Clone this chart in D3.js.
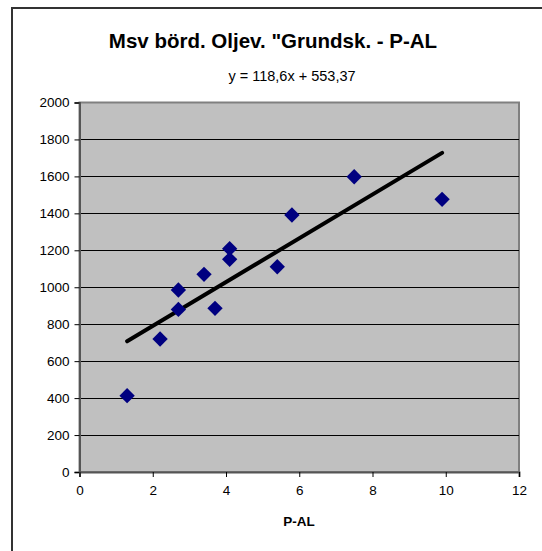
<!DOCTYPE html>
<html>
<head>
<meta charset="utf-8">
<script src="https://cdn.jsdelivr.net/npm/d3@7"></script>
<style>
  body { margin: 0; background: #fff; }
  svg { display: block; font-family: Arial, "Liberation Sans", sans-serif; }
</style>
</head>
<body>
<div id="viz"></div>
<script>
// data
const pAl = [1.3, 2.2, 2.7, 2.7, 3.4, 3.7, 4.1, 4.1, 5.4, 5.8, 7.5, 9.9];
const yield_ = [413, 720, 985, 880, 1070, 886, 1209, 1151, 1111, 1391, 1598, 1476];
const trend = [118.6, 553.37]; // slope, intercept
const xTicks = [0, 2, 4, 6, 8, 10, 12];
const yTicks = [0, 200, 400, 600, 800, 1000, 1200, 1400, 1600, 1800, 2000];

const width = 542, height = 551;
const plot = { left: 79.5, right: 519, top: 102.5, bottom: 472 };

const svg = d3.select("#viz").append("svg")
    .attr("width", width)
    .attr("height", height);

// outer frame (runs off the right/bottom edge)
svg.append("rect")
    .attr("x", 12).attr("y", 8)
    .attr("width", 560).attr("height", 580)
    .attr("fill", "none")
    .attr("stroke", "#333")
    .attr("stroke-width", 2);

const x = d3.scaleLinear().domain([0, 12]).range([plot.left, plot.right]);
const y = d3.scaleLinear().domain([0, 2000]).range([plot.bottom, plot.top]);

svg.append("rect")
    .attr("x", plot.left).attr("y", plot.top)
    .attr("width", plot.right - plot.left)
    .attr("height", plot.bottom - plot.top)
    .attr("fill", "#c0c0c0")
    .attr("stroke", "#808080")
    .attr("stroke-width", 2);

// gridlines
svg.append("g").selectAll("line")
    .data(yTicks.filter(d => d > 0 && d < 2000))
    .join("line")
    .attr("x1", plot.left).attr("x2", plot.right)
    .attr("y1", d => Math.round(y(d)) + 0.5).attr("y2", d => Math.round(y(d)) + 0.5)
    .attr("stroke", "#000")
    .attr("stroke-width", 1);

// axes
const yAxis = svg.append("g")
    .attr("transform", `translate(${plot.left},0)`)
    .call(d3.axisLeft(y).tickValues(yTicks).tickSize(5).tickPadding(5).tickFormat(d3.format("d")));
const xAxis = svg.append("g")
    .attr("transform", `translate(0,${plot.bottom})`)
    .call(d3.axisBottom(x).tickValues(xTicks).tickSize(5).tickPadding(8).tickFormat(d3.format("d")));
[xAxis, yAxis].forEach(a => {
    a.select(".domain").attr("stroke", "#555").attr("stroke-width", 2);
    a.selectAll(".tick line").attr("stroke", "#000");
    a.selectAll(".tick text").attr("font-size", "13.5px").attr("fill", "#000")
        .attr("font-family", "Arial, 'Liberation Sans', sans-serif");
});

// trendline over the data range
const xr = d3.extent(pAl);
svg.append("line")
    .attr("x1", x(xr[0])).attr("y1", y(trend[0] * xr[0] + trend[1]))
    .attr("x2", x(xr[1])).attr("y2", y(trend[0] * xr[1] + trend[1]))
    .attr("stroke", "#000")
    .attr("stroke-width", 4)
    .attr("stroke-linecap", "round");

// points
svg.append("g").selectAll("path")
    .data(pAl.map((d, i) => [d, yield_[i]]))
    .join("path")
    .attr("d", d3.symbol(d3.symbolDiamond2, 150))
    .attr("transform", d => `translate(${x(d[0])},${y(d[1])})`)
    .attr("fill", "#000080");

// texts
svg.append("text")
    .attr("x", 273).attr("y", 48)
    .attr("text-anchor", "middle")
    .attr("font-size", "20.5px").attr("font-weight", "bold")
    .text('Msv börd. Oljev. "Grundsk. - P-AL');

svg.append("text")
    .attr("x", 292).attr("y", 81)
    .attr("text-anchor", "middle")
    .attr("font-size", "14.5px")
    .text("y = 118,6x + 553,37");

svg.append("text")
    .attr("x", 299).attr("y", 526)
    .attr("text-anchor", "middle")
    .attr("font-size", "13.5px").attr("font-weight", "bold")
    .text("P-AL");
</script>
</body>
</html>
